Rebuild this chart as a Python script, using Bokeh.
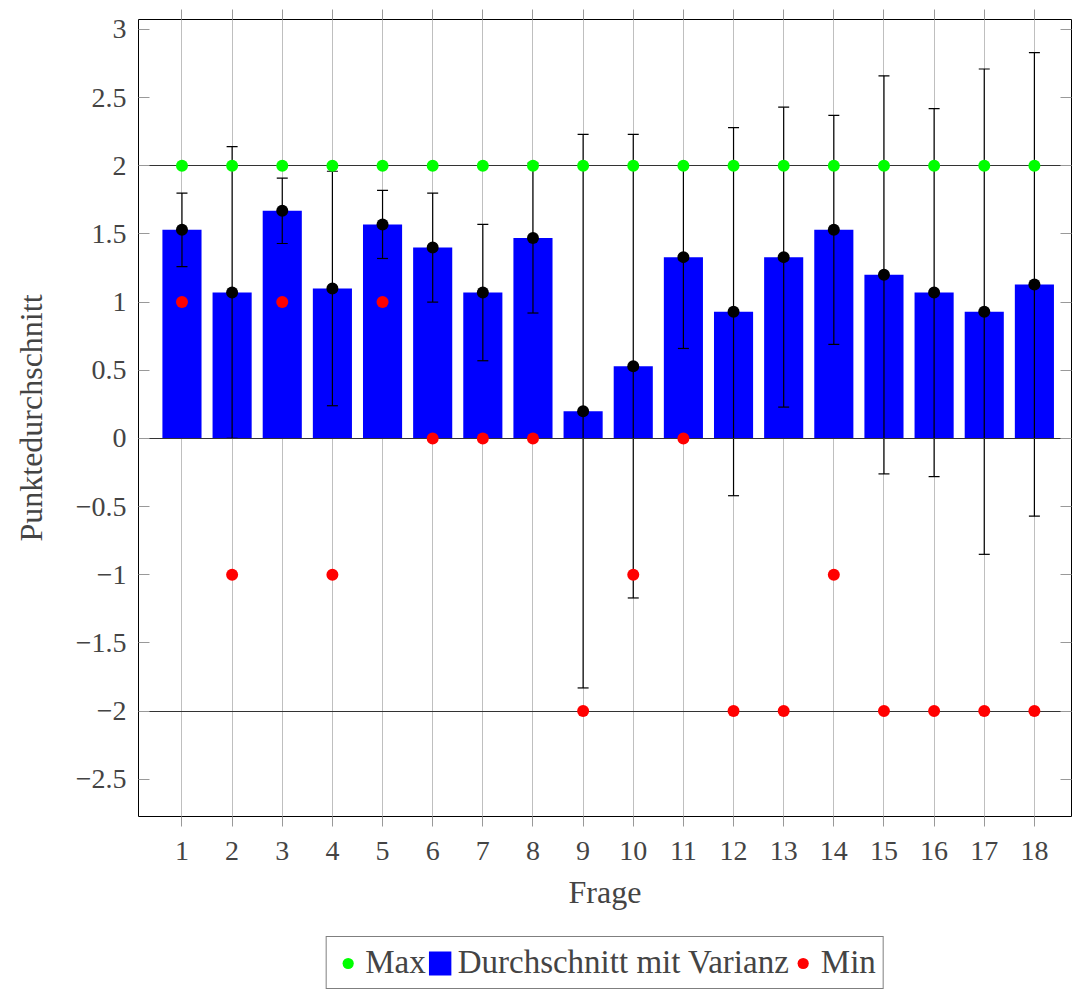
from bokeh.plotting import figure
from bokeh.models import (ColumnDataSource, Range1d, FixedTicker, LinearAxis, Legend, LegendItem)
from bokeh.layouts import column
from bokeh.embed import file_html
from bokeh.resources import INLINE

# ---- data ----
fragen = list(range(1, 19))
mittel = [1.53, 1.07, 1.67, 1.10, 1.57, 1.40, 1.07, 1.47, 0.20, 0.53, 1.33, 0.93, 1.33, 1.53, 1.20, 1.07, 0.93, 1.13]
varianz = [0.27, 1.07, 0.24, 0.86, 0.25, 0.40, 0.50, 0.55, 2.03, 1.70, 0.67, 1.35, 1.10, 0.84, 1.46, 1.35, 1.78, 1.70]
maxima = [2] * 18
minima = [1, -1, 1, -1, 1, 0, 0, 0, -2, -1, 0, -2, -2, -1, -2, -2, -2, -2]
y_ticks = [-2.5, -2, -1.5, -1, -0.5, 0, 0.5, 1, 1.5, 2, 2.5, 3]
ref_lines = [-2, 0, 2]
series_labels = ["Max", "Durchschnitt mit Varianz", "Min"]

FONT = "Liberation Serif"
BLUE, GREEN, RED = "#0000ff", "#00ff00", "#ff0000"

src = ColumnDataSource(dict(
    x=fragen, mean=mittel,
    upper=[m + v for m, v in zip(mittel, varianz)],
    lower=[m - v for m, v in zip(mittel, varianz)],
    mx=maxima, mn=minima,
))

p = figure(width=1072, height=930, output_backend="svg", toolbar_location=None,
           x_range=Range1d(0.133, 18.74), y_range=Range1d(-2.773, 3.073),
           min_border_left=133, min_border_right=1, min_border_top=19, min_border_bottom=114,
           x_axis_location=None, y_axis_location=None)
p.outline_line_color = "black"
p.outline_line_width = 1
p.background_fill_color = "white"

GRID = "#bfbfbf"
TICKC = "#999999"

xaxis = LinearAxis(ticker=FixedTicker(ticks=fragen), axis_label="Frage")
xaxis.axis_line_color = None
xaxis.major_tick_in = 0
xaxis.major_tick_out = 10
xaxis.major_tick_line_color = TICKC
xaxis.minor_tick_line_color = None
xaxis.major_label_text_font = FONT
xaxis.major_label_text_font_size = "28px"
xaxis.major_label_standoff = 15
xaxis.axis_label_text_font = FONT
xaxis.axis_label_text_font_size = "32px"
xaxis.axis_label_text_font_style = "normal"
xaxis.axis_label_standoff = 11
p.add_layout(xaxis, "below")

top = LinearAxis(ticker=FixedTicker(ticks=fragen))
top.major_label_overrides = {t: "" for t in fragen}
top.axis_line_color = None
top.major_tick_in = 0
top.major_tick_out = 10
top.major_tick_line_color = TICKC
top.minor_tick_line_color = None
top.major_label_standoff = 0
p.add_layout(top, "above")

yaxis = LinearAxis(ticker=FixedTicker(ticks=y_ticks), axis_label="Punktedurchschnitt")
yaxis.major_label_overrides = {t: (("\u2212" if t < 0 else "") + ("%g" % abs(t))) for t in y_ticks}
yaxis.axis_line_color = None
yaxis.major_tick_in = 11
yaxis.major_tick_out = 0
yaxis.major_tick_line_color = TICKC
yaxis.minor_tick_line_color = None
yaxis.major_label_text_font = FONT
yaxis.major_label_text_font_size = "28px"
yaxis.major_label_standoff = 12
yaxis.axis_label_text_font = FONT
yaxis.axis_label_text_font_size = "32px"
yaxis.axis_label_text_font_style = "normal"
yaxis.axis_label_standoff = 24
p.add_layout(yaxis, "left")

right = LinearAxis(ticker=FixedTicker(ticks=y_ticks))
right.major_label_overrides = {t: "" for t in y_ticks}
right.axis_line_color = None
right.major_tick_in = 11
right.major_tick_out = 0
right.major_tick_line_color = TICKC
right.minor_tick_line_color = None
right.major_label_standoff = 0
p.add_layout(right, "right")

p.xgrid.ticker = FixedTicker(ticks=fragen)
p.xgrid.grid_line_color = GRID
p.xgrid.grid_line_width = 1
p.ygrid.grid_line_color = None

p.vbar(x="x", top="mean", width=0.78, source=src, fill_color=BLUE, line_color=None)
p.segment(x0="x", y0="lower", x1="x", y1="upper", source=src, line_color="black", line_width=1.2)
p.scatter(x="x", y="upper", source=src, marker="dash", size=11, line_color="black", line_width=1.2)
p.scatter(x="x", y="lower", source=src, marker="dash", size=11, line_color="black", line_width=1.2)
p.hspan(y=ref_lines, line_color="#333333", line_width=1.2)
p.scatter(x="x", y="mean", source=src, size=12, fill_color="black", line_color=None)
p.scatter(x="x", y="mx", source=src, size=12, fill_color=GREEN, line_color=None)
p.scatter(x="x", y="mn", source=src, size=12, fill_color=RED, line_color=None)

# legend strip below the chart (own small canvas; its proxy glyphs lie outside its view)
leg = figure(width=1072, height=60, output_backend="svg", toolbar_location=None,
             x_range=Range1d(0, 1), y_range=Range1d(0, 1),
             min_border_left=138, min_border_right=0, min_border_top=0, min_border_bottom=0,
             x_axis_location=None, y_axis_location=None)
leg.outline_line_color = None
leg.xgrid.grid_line_color = None
leg.ygrid.grid_line_color = None
proxy = ColumnDataSource(dict(x=[-5], y=[-5], top=[-5]))
lg_max = leg.scatter(x="x", y="y", source=proxy, size=12, fill_color=GREEN, line_color=None)
lg_bar = leg.vbar(x="x", top="top", width=0.8, source=proxy, fill_color=BLUE, line_color=None)
lg_min = leg.scatter(x="x", y="y", source=proxy, size=12, fill_color=RED, line_color=None)

legend = Legend(items=[
    LegendItem(label=series_labels[0], renderers=[lg_max]),
    LegendItem(label=series_labels[1], renderers=[lg_bar]),
    LegendItem(label=series_labels[2], renderers=[lg_min]),
], orientation="horizontal", location="top_center")
legend.label_text_font = FONT
legend.label_text_font_size = "33px"
legend.border_line_color = "black"
legend.border_line_width = 1
legend.spacing = 0
legend.label_standoff = 4
legend.glyph_width = 28
legend.glyph_height = 30
legend.padding = 7
legend.margin = 6
leg.add_layout(legend, "center")

open("out.html", "w").write(file_html(column(p, leg, spacing=0), INLINE))
